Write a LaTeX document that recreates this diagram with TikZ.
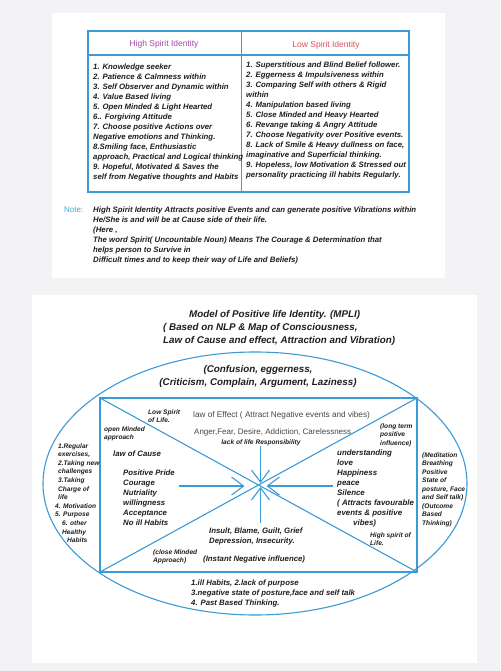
\documentclass[tikz,border=0pt]{standalone}
\usepackage{fontspec}
\setmainfont{Liberation Sans}
\usetikzlibrary{arrows.meta,calc}
\definecolor{lineblue}{HTML}{3C9AD6}
\definecolor{ink}{HTML}{1E1E1E}
\definecolor{hdpurple}{HTML}{A04BA6}
\definecolor{hdred}{HTML}{D4525E}
\definecolor{notecyan}{HTML}{3AA8D0}
\definecolor{greytext}{HTML}{474747}
\definecolor{backgrey}{HTML}{F3F3F5}

\begin{document}
\begin{tikzpicture}[x=1pt,y=-1pt,
  bi/.style={inner sep=0,anchor=north west,align=left,text=ink,font=\bfseries\itshape\fontsize{7.8}{9.95}\selectfont},
  sm/.style={bi,font=\bfseries\itshape\fontsize{6.6}{8.6}\selectfont},
  rg/.style={inner sep=0,anchor=base west,text=greytext,font=\fontsize{8.2}{10}\selectfont},
  blu/.style={draw=lineblue,line width=1.1pt},
  into/.style={blu,-{Straight Barb[length=12pt,width=18pt]}}]
\useasboundingbox (0,0) rectangle (500,671);
% page and panels
\fill[backgrey] (0,0) rectangle (500,671);
\fill[white] (52,13) rectangle (445,278);
\fill[white] (32,295) rectangle (477,663);

% table
\coordinate (ttl) at (88,31); \coordinate (tbr) at (409,192);
\coordinate (hl) at (88,55); \coordinate (hr) at (409,55);
\coordinate (ct) at (241.5,31); \coordinate (cb) at (241.5,192);
\draw[blu] (ttl) rectangle (tbr);
\draw[blu] (hl) -- (hr);
\draw[blu] (ct) -- (cb);
\node[rg,anchor=base,text=hdpurple,font=\fontsize{8.5}{9}\selectfont] (hihead) at (164,47) {High Spirit Identity};
\node[rg,anchor=base,text=hdred,font=\fontsize{8.5}{9}\selectfont] (lohead) at (326,48) {Low Spirit Identity};
\node[bi] (hilist) at (93,63.9) {1. Knowledge seeker\\
2. Patience \& Calmness within\\
3. Self Observer and Dynamic within\\
4. Value Based living\\
5. Open Minded \& Light Hearted\\
6.. Forgiving Attitude\\
7. Choose positive Actions over\\
Negative emotions and Thinking.\\
8.Smiling face, Enthusiastic\\
approach, Practical and Logical thinking\\
9. Hopeful, Motivated \& Saves the\\
self from Negative thoughts and Habits};
\node[bi] (lolist) at (246,61.9) {1. Superstitious and Blind Belief follower.\\
2. Eggerness \& Impulsiveness within\\
3. Comparing Self with others \& Rigid\\
within\\
4. Manipulation based living\\
5. Close Minded and Heavy Hearted\\
6. Revange taking \& Angry Attitude\\
7. Choose Negativity over Positive events.\\
8. Lack of Smile \& Heavy dullness on face,\\
imaginative and Superficial thinking.\\
9. Hopeless, low Motivation \& Stressed out\\
personality practicing ill habits Regularly.};

% note
\node[rg,text=notecyan,font=\fontsize{8}{10}\selectfont] (notelbl) at (64,212.5) {Note:};
\node[bi] (notetext) at (93,206.9) {High Spirit Identity Attracts positive Events and can generate positive Vibrations within\\
He/She is and will be at Cause side of their life.\\
(Here ,\\
The word Spirit( Uncountable Noun) Means The Courage \& Determination that\\
helps person to Survive in\\
Difficult times and to keep their way of Life and Beliefs)};

% model
\node[bi,font=\bfseries\itshape\fontsize{9.8}{13}\selectfont] (mpli) at (163,310.4) {\hspace*{26pt}Model of Positive life Identity. (MPLI)\\
( Based on NLP \& Map of Consciousness,\\
Law of Cause and effect, Attraction and Vibration)};
\coordinate (eo) at (255,483.5);
\draw[blu] (eo) ellipse [x radius=212, y radius=131.5];
\node[bi,anchor=north,align=center,font=\bfseries\itshape\fontsize{9.8}{13}\selectfont] (vices) at (258,364.9) {(Confusion, eggerness,\\(Criticism, Complain, Argument, Laziness)};

\coordinate (rtl) at (100,398); \coordinate (rtr) at (417,398);
\coordinate (rbl) at (100,572); \coordinate (rbr) at (417,572);
\draw[blu] (rtl) rectangle (rbr);
\draw[blu] (rtl) -- (rbr);
\draw[blu] (rbl) -- (rtr);
\coordinate (hub) at (intersection of rtl--rbr and rbl--rtr);

% arrows into the hub
\coordinate (fromcause) at ($(hub)+(-80,1)$);  \coordinate (tipcause) at ($(hub)+(-14,1)$);
\coordinate (fromgood) at ($(hub)+(74,1)$);    \coordinate (tipgood) at ($(hub)+(8,1)$);
\coordinate (fromtop) at ($(hub)+(2,-39)$);    \coordinate (tiptop) at ($(hub)+(2,-2)$);
\coordinate (frombot) at ($(hub)+(2,38)$);     \coordinate (tipbot) at ($(hub)+(2,2)$);
\draw[into] (fromcause) -- (tipcause);
\draw[into] (fromgood) -- (tipgood);
\draw[into] (fromtop) -- (tiptop);
\draw[into] (frombot) -- (tipbot);

% labels
\node[sm] (lowspirit) at (148,409.2) {Low Spirit\\of Life.};
\node[rg] (effect) at (193,417.5) {law of Effect ( Attract Negative events and vibes)};
\node[rg,font=\fontsize{8}{10}\selectfont] (anger) at (194,434.5) {Anger,Fear, Desire, Addiction, Carelessness};
\node[sm,anchor=base] (respons) at (261,444) {lack of life Responsibility};
\node[sm] (openmind) at (104,426.2) {open Minded\\approach};
\node[bi,anchor=base west] (cause) at (113,456.5) {law of Cause};
\node[bi] (virtues) at (123,469.9) {Positive Pride\\Courage\\Nutriality\\willingness\\Acceptance\\No ill Habits};
\node[sm] (longterm) at (380,423.2) {(long term\\positive\\influence)};
\node[bi,font=\bfseries\itshape\fontsize{7.9}{10}\selectfont] (blessings) at (337,449.9) {understanding\\love\\Happiness\\peace\\Silence\\( Attracts favourable\\events \& positive\\\hspace*{16pt}vibes)};
\node[sm,font=\bfseries\itshape\fontsize{6.6}{8.5}\selectfont] (practice) at (422,452.2) {(Meditation\\Breathing\\Positive\\State of\\posture, Face\\and Self talk)\\(Outcome\\Based\\Thinking)};
\node[sm] (habits) at (58,443.2) {1.Regular\\exercises,\\2.Taking new\\challenges\\3.Taking\\Charge of\\life\\\hspace*{-3pt}4. Motivation\\\hspace*{-3pt}5. Purpose\\\hspace*{4pt}6. other\\\hspace*{4pt}Healthy\\\hspace*{9pt}Habits};
\node[bi] (insult) at (209,527.9) {Insult, Blame, Guilt, Grief\\Depression, Insecurity.};
\node[sm] (closemind) at (153,549.2) {(close Minded\\Approach)};
\node[bi,anchor=base west] (instant) at (203,561.5) {(Instant Negative influence)};
\node[sm,font=\bfseries\itshape\fontsize{6.6}{8.5}\selectfont] (highspirit) at (370,532.2) {High spirit of\\Life.};
\node[bi] (illhabits) at (191,579.9) {1.ill Habits, 2.lack of purpose\\3.negative state of posture,face and self talk\\4. Past Based Thinking.};
\end{tikzpicture}
\end{document}
